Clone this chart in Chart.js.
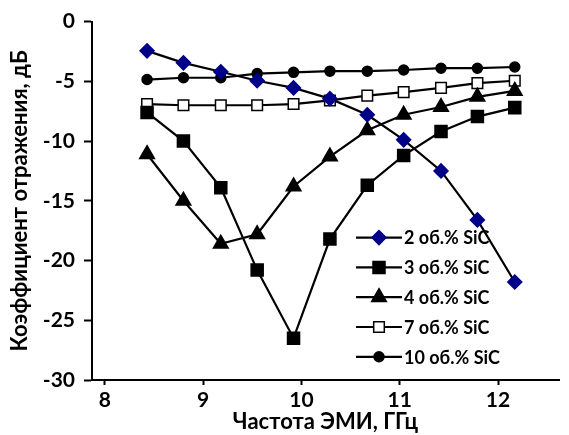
<!DOCTYPE html>
<html>
<head>
<meta charset="utf-8">
<script src="https://cdn.jsdelivr.net/npm/chart.js@4/dist/chart.umd.min.js"></script>
<style>
  html, body { margin: 0; padding: 0; background: #fff; }
  #wrap { width: 569px; height: 435px; }
</style>
</head>
<body>
<div id="wrap"><canvas id="chart"></canvas></div>
<script>
// частоты, ГГц
const freq = [8.43, 8.80, 9.18, 9.55, 9.92, 10.29, 10.67, 11.04, 11.42, 11.79, 12.17];

// коэффициент отражения, дБ
const sic2  = [-2.45, -3.45, -4.2, -4.95, -5.55, -6.45, -7.8, -9.9, -12.5, -16.6, -21.8];
const sic3  = [-7.6, -10.0, -13.9, -20.8, -26.5, -18.2, -13.7, -11.2, -9.2, -7.95, -7.2];
const sic4  = [-11.1, -15.0, -18.6, -17.8, -13.8, -11.3, -9.1, -7.8, -7.15, -6.3, -5.8];
const sic7  = [-6.9, -7.0, -7.0, -7.0, -6.9, -6.6, -6.2, -5.9, -5.55, -5.15, -4.95];
const sic10 = [-4.85, -4.7, -4.7, -4.35, -4.25, -4.15, -4.15, -4.05, -3.9, -3.9, -3.8];

const labels = ['2 об.% SiC', '3 об.% SiC', '4 об.% SiC', '7 об.% SiC', '10 об.% SiC'];
const yTicks = [0, -5, -10, -15, -20, -25, -30];

const FONT = 'Lato, "Open Sans", sans-serif';

function pts(ys) {
    return ys.map((y, i) => ({ x: freq[i], y: y }));
}

function series(label, ys, style, radius, fill, border) {
    return {
        label: label,
        data: pts(ys),
        borderColor: '#000',
        borderWidth: 2.2,
        pointStyle: style,
        pointRadius: radius,
        pointHoverRadius: radius,
        pointBackgroundColor: fill,
        pointBorderColor: border,
        pointBorderWidth: 1.5,
        tension: 0,
        fill: false
    };
}

// легенда внутри поля графика: линия + маркер + подпись
const innerLegend = {
    id: 'innerLegend',
    afterDraw(chart) {
        const ctx = chart.ctx;
        const area = chart.chartArea;
        const x0 = area.left + 264;
        const y0 = area.top + 216;
        ctx.save();
        chart.data.datasets.forEach((ds, i) => {
            const y = y0 + i * 29.8;
            ctx.strokeStyle = '#000';
            ctx.lineWidth = 2.2;
            ctx.beginPath();
            ctx.moveTo(x0, y);
            ctx.lineTo(x0 + 46, y);
            ctx.stroke();
            ctx.fillStyle = ds.pointBackgroundColor;
            ctx.strokeStyle = ds.pointBorderColor;
            ctx.lineWidth = ds.pointBorderWidth;
            Chart.helpers.drawPoint(ctx, {
                pointStyle: ds.pointStyle,
                radius: ds.pointRadius,
                rotation: 0,
                borderWidth: ds.pointBorderWidth
            }, x0 + 23, y);
            ctx.fillStyle = '#000';
            ctx.font = 'bold 18px ' + FONT;
            ctx.textBaseline = 'middle';
            ctx.textAlign = 'left';
            ctx.fillText(ds.label, x0 + 48, y + 1);
        });
        ctx.restore();
    }
};

const ctx = document.getElementById('chart').getContext('2d');
new Chart(ctx, {
    type: 'line',
    data: {
        datasets: [
            series(labels[0], sic2, 'rectRot', 7, '#000088', '#000088'),
            series(labels[1], sic3, 'rect', 8.5, '#000', '#000'),
            series(labels[2], sic4, 'triangle', 8.5, '#000', '#000'),
            series(labels[3], sic7, 'rect', 7.5, '#fff', '#000'),
            series(labels[4], sic10, 'circle', 5, '#000', '#000')
        ]
    },
    options: {
        responsive: true,
        maintainAspectRatio: false,
        animation: false,
        layout: { padding: { top: 20, right: 0, left: 7, bottom: 0 } },
        plugins: {
            legend: { display: false },
            tooltip: { enabled: false }
        },
        scales: {
            x: {
                type: 'linear',
                min: 7.87,
                max: 12.62,
                afterBuildTicks: (s) => { s.ticks = [8, 9, 10, 11, 12].map(v => ({ value: v })); },
                grid: { drawOnChartArea: false, color: '#000', tickLength: 5, tickWidth: 2 },
                border: { color: '#000', width: 2 },
                ticks: { color: '#000', font: { family: FONT, size: 21, weight: 'bold' }, padding: 3 },
                title: {
                    display: true,
                    text: 'Частота ЭМИ, ГГц',
                    color: '#000',
                    font: { family: FONT, size: 22, weight: 'bold' },
                    padding: { top: 0, bottom: 0 }
                },
                afterFit: (s) => { s.height = 55; }
            },
            y: {
                min: -30,
                max: 0,
                afterBuildTicks: (s) => { s.ticks = yTicks.map(v => ({ value: v })); },
                grid: { drawOnChartArea: false, color: '#000', tickLength: 8, tickWidth: 2 },
                border: { color: '#000', width: 2 },
                ticks: { color: '#000', font: { family: FONT, size: 21, weight: 'bold' }, padding: 9 },
                title: {
                    display: true,
                    text: 'Коэффициент отражения, дБ',
                    color: '#000',
                    font: { family: FONT, size: 22, weight: 'bold' },
                    padding: { top: 0, bottom: 0 }
                },
                afterFit: (s) => { s.width = 85; }
            }
        }
    },
    plugins: [innerLegend]
});
</script>
</body>
</html>
